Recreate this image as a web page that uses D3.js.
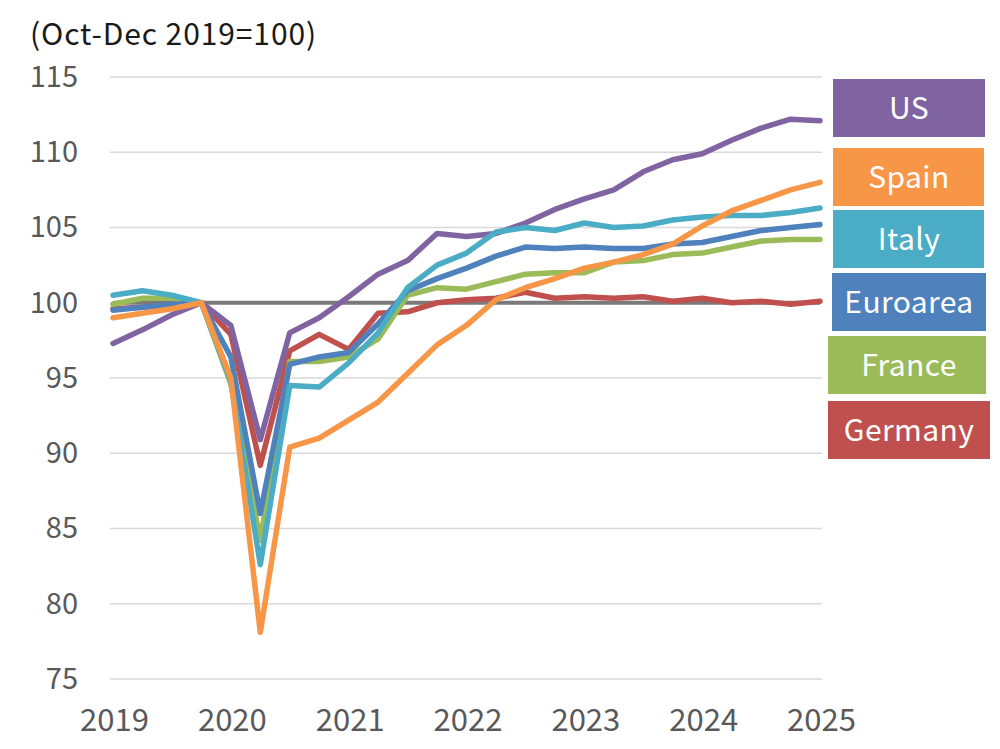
<!DOCTYPE html>
<html>
<head>
<meta charset="utf-8">
<script src="https://cdn.jsdelivr.net/npm/d3@7"></script>
<style>
  body { margin: 0; background: #fff; }
  svg { display: block; font-family: "Noto Sans CJK JP", "Noto Sans", sans-serif; }
</style>
</head>
<body>
<div id="chart"></div>
<script>
// data, quarterly 2019Q1 .. 2025Q1 (Oct-Dec 2019 = 100)
const quarters = [];
for (let y = 2019; y <= 2025; y++) {
  for (let q = 1; q <= 4; q++) {
    if (y === 2025 && q > 1) break;
    quarters.push(y + "Q" + q);
  }
}
const yearLabels = ["2019", "2020", "2021", "2022", "2023", "2024", "2025"];
const yTicks = [75, 80, 85, 90, 95, 100, 105, 110, 115];

const us       = [97.3, 98.2, 99.2, 100, 98.5, 90.9, 98.0, 99.0, 100.4, 101.9, 102.8, 104.6, 104.4, 104.6, 105.3, 106.2, 106.9, 107.5, 108.7, 109.5, 109.9, 110.8, 111.6, 112.2, 112.1];
const spain    = [99.0, 99.3, 99.6, 100, 95.0, 78.1, 90.4, 91.0, 92.2, 93.4, 95.3, 97.2, 98.5, 100.2, 101.0, 101.6, 102.3, 102.7, 103.2, 103.9, 105.1, 106.1, 106.8, 107.5, 108.0];
const italy    = [100.5, 100.8, 100.5, 100, 94.8, 82.6, 94.5, 94.4, 96.0, 98.0, 101.0, 102.5, 103.3, 104.7, 105.0, 104.8, 105.3, 105.0, 105.1, 105.5, 105.7, 105.8, 105.8, 106.0, 106.3];
const euroarea = [99.5, 99.7, 99.9, 100, 96.4, 86.0, 95.9, 96.4, 96.7, 98.6, 100.8, 101.6, 102.3, 103.1, 103.7, 103.6, 103.7, 103.6, 103.6, 103.9, 104.0, 104.4, 104.8, 105.0, 105.2];
const france   = [99.9, 100.3, 100.3, 100, 94.6, 84.2, 96.1, 96.1, 96.4, 97.6, 100.5, 101.0, 100.9, 101.4, 101.9, 102.0, 102.0, 102.7, 102.8, 103.2, 103.3, 103.7, 104.1, 104.2, 104.2];
const germany  = [99.6, 99.7, 99.9, 100, 97.9, 89.2, 96.8, 97.9, 96.9, 99.3, 99.4, 100.0, 100.2, 100.3, 100.7, 100.3, 100.4, 100.3, 100.4, 100.1, 100.3, 100.0, 100.1, 99.9, 100.1];
const baseLine = quarters.map(() => 100);

const seriesNames = ["US", "Spain", "Italy", "Euroarea", "France", "Germany"];
const seriesColors = ["#8064a2", "#f79646", "#4bacc6", "#4f81bd", "#9bbb59", "#c0504d"];
const seriesValues = [us, spain, italy, euroarea, france, germany];
// which one goes on top (last drawn)
const drawOrder = ["Germany", "France", "Euroarea", "US", "Italy", "Spain"];

//setup
const W = 1000, H = 749;
const svg = d3.select("#chart").append("svg")
  .attr("width", W)
  .attr("height", H);

const x = d3.scalePoint().domain(quarters).range([113, 820]);
const y = d3.scaleLinear().domain([75, 115]).range([679, 77]);

// gridlines
svg.append("g")
  .selectAll("line")
  .data(yTicks)
  .join("line")
  .attr("x1", 110)
  .attr("x2", 822)
  .attr("y1", d => y(d))
  .attr("y2", d => y(d))
  .attr("stroke", "#d9d9d9")
  .attr("stroke-width", 1.5);

// y axis
const yAxis = d3.axisLeft(y).tickValues(yTicks).tickSize(0).tickPadding(0);
svg.append("g")
  .attr("transform", "translate(78,0)")
  .call(yAxis)
  .call(g => g.select(".domain").remove())
  .selectAll("text")
  .attr("fill", "#595959")
  .attr("font-size", 29)
  .attr("font-family", "Noto Sans CJK JP");

// x axis, label each year at its Q1
const xAxis = d3.axisBottom(x)
  .tickValues(yearLabels.map(d => d + "Q1"))
  .tickFormat(d => d.slice(0, 4))
  .tickSize(0)
  .tickPadding(0);
svg.append("g")
  .attr("transform", "translate(1,709)")
  .call(xAxis)
  .call(g => g.select(".domain").remove())
  .selectAll("text")
  .attr("fill", "#595959")
  .attr("font-size", 31)
  .attr("font-family", "Noto Sans CJK JP");

// title
svg.append("text")
  .attr("x", 30)
  .attr("y", 45)
  .attr("fill", "#1a1a1a")
  .attr("font-size", 30)
  .attr("letter-spacing", 0.9)
  .text("(Oct-Dec 2019=100)");

const line = d3.line()
  .x((d, i) => x(quarters[i]))
  .y(d => y(d));

// 100 reference line
svg.append("path")
  .datum(baseLine)
  .attr("d", line)
  .attr("fill", "none")
  .attr("stroke", "#7a7a7a")
  .attr("stroke-width", 4);

svg.append("g")
  .selectAll("path")
  .data(drawOrder.map(n => seriesNames.indexOf(n)))
  .join("path")
  .attr("d", i => line(seriesValues[i]))
  .attr("fill", "none")
  .attr("stroke", i => seriesColors[i])
  .attr("stroke-width", 5.5)
  .attr("stroke-linejoin", "round")
  .attr("stroke-linecap", "round");

// legend boxes
const legendY = [79, 148, 210, 273, 336, 401];
const legendX = [833, 833, 833, 832, 828, 828];
const legendW = [152, 151, 151, 154, 158, 162];
const lg = svg.append("g")
  .selectAll("g")
  .data(seriesNames)
  .join("g")
  .attr("transform", (d, i) => "translate(" + legendX[i] + "," + legendY[i] + ")");

lg.append("rect")
  .attr("width", (d, i) => legendW[i])
  .attr("height", 58)
  .attr("fill", (d, i) => seriesColors[i]);

lg.append("text")
  .attr("x", (d, i) => 909 - legendX[i])
  .attr("y", 29)
  .attr("dy", "0.36em")
  .attr("text-anchor", "middle")
  .attr("fill", "#fff")
  .attr("font-size", 30)
  .attr("letter-spacing", 0.4)
  .text(d => d);
</script>
</body>
</html>
